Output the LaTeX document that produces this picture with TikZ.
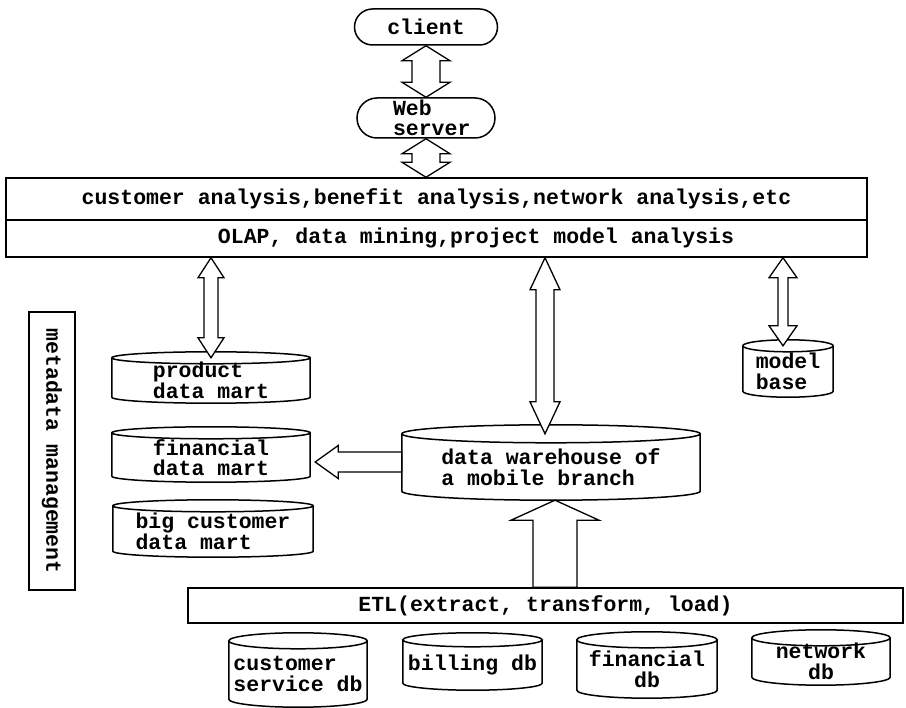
\documentclass[tikz,border=0pt]{standalone}
\usepackage{fontspec}
\newfontfamily\dfont{Liberation Mono}
\usetikzlibrary{calc}

% cylinder outline round a node whose box is the body below the top ellipse
% #1 node name, #2 half height of the ellipses (pt)
\newcommand\cylinder[2]{%
  \draw[outline] let \p1=(#1.north west), \p2=(#1.south east) in
    (\x1,\y1) -- (\x1,\y2+#2pt)
      arc[start angle=180, end angle=360, x radius={(\x2-\x1)/2}, y radius=#2pt]
      -- (\x2,\y1)
    ({(\x1+\x2)/2},\y1) ellipse[x radius={(\x2-\x1)/2}, y radius=#2pt];}

% hollow vertical double arrow: #1 upper end, #2 lower end (x taken from #1),
% #3 shaft half width, #4 head half width, #5 head length
\newcommand\blockboth[5]{%
  \draw[blockarrow] let \p1=(#1), \p2=(#2) in
    (\x1,\y1) -- (\x1+#4pt,\y1-#5pt) -- (\x1+#3pt,\y1-#5pt) -- (\x1+#3pt,\y2+#5pt)
    -- (\x1+#4pt,\y2+#5pt) -- (\x1,\y2) -- (\x1-#4pt,\y2+#5pt) -- (\x1-#3pt,\y2+#5pt)
    -- (\x1-#3pt,\y1-#5pt) -- (\x1-#4pt,\y1-#5pt) -- cycle;}

% hollow arrow pointing up: #1 tip, #2 tail (x taken from #1)
\newcommand\blockup[5]{%
  \draw[blockarrow] let \p1=(#1), \p2=(#2) in
    (\x1,\y1) -- (\x1+#4pt,\y1-#5pt) -- (\x1+#3pt,\y1-#5pt) -- (\x1+#3pt,\y2)
    -- (\x1-#3pt,\y2) -- (\x1-#3pt,\y1-#5pt) -- (\x1-#4pt,\y1-#5pt) -- cycle;}

% hollow arrow pointing left: #1 tip, #2 tail (y taken from #1)
\newcommand\blockleft[5]{%
  \draw[blockarrow] let \p1=(#1), \p2=(#2) in
    (\x1,\y1) -- (\x1+#5pt,\y1+#4pt) -- (\x1+#5pt,\y1+#3pt) -- (\x2,\y1+#3pt)
    -- (\x2,\y1-#3pt) -- (\x1+#5pt,\y1-#3pt) -- (\x1+#5pt,\y1-#4pt) -- cycle;}

\tikzset{
  every node/.style={font=\dfont\bfseries\fontsize{21.5pt}{20.5pt}\selectfont, inner sep=0pt},
  outline/.style={draw, line width=1.5pt},
  pill/.style={outline},
  bar/.style={outline},
  store/.style={align=left},
  blockarrow/.style={draw, line width=1.3pt, fill=white, line join=miter},
}

\begin{document}
\begin{tikzpicture}[x=1pt, y=-1pt]
\useasboundingbox (0,0) rectangle (906,708);

% client / web server
\node[pill, rounded corners=18pt, minimum width=143, minimum height=36] (client) at (426,27) {client};
\node[pill, rounded corners=20pt, minimum width=138, minimum height=40,
      text width=66, align=left] (web) at (426,118) {Web\\server};

% application layer
\node[bar, minimum width=861, minimum height=42] (apps) at (436.5,199)
  {customer analysis,benefit analysis,network analysis,etc};
\node[bar, minimum width=861, minimum height=37] (olap) at (436.5,238.5) {};
\node (olaptext) at (476,238) {OLAP, data mining,project model analysis};

% metadata management
\node[bar, rotate=-90, minimum width=278, minimum height=46] (meta) at (52,451)
  {metadata management};

% data marts
\node[store, minimum width=198, minimum height=45] (prod) at (211,380.5) {product\\data mart};
\node[store, minimum width=198, minimum height=49] (fin) at (211,457.5) {financial\\data mart};
\node[store, minimum width=200, minimum height=51] (big) at (213,531.5) {big customer\\data mart};
\cylinder{prod}{6}
\cylinder{fin}{6}
\cylinder{big}{6}

% model base
\node[store, minimum width=90, minimum height=51] (model) at (788,371.5) {model\\base};
\cylinder{model}{6}

% data warehouse
\node[store, minimum width=298, minimum height=66] (wh) at (551,467)
  {data warehouse of\\a mobile branch};
\cylinder{wh}{9}

% ETL
\node[bar, minimum width=715, minimum height=35] (etl) at (545.5,605.5)
  {ETL(extract, transform, load)};

% source databases
\node[store, minimum width=138, minimum height=66] (cs) at (298,674) {customer\\service db};
\node[store, minimum width=139, minimum height=50] (bill) at (472.5,665) {billing db};
\node[align=center, minimum width=140, minimum height=58] (fdb) at (647,669) {financial\\db};
\node[align=center, minimum width=138, minimum height=47] (ndb) at (821,661.5) {network\\db};
\cylinder{cs}{8}
\cylinder{bill}{7}
\cylinder{fdb}{8}
\cylinder{ndb}{8}

% arrows
\coordinate (whin) at ($(wh.north)+(-6,0)$);
\coordinate (mbin) at ($(model.north)+(-5,0)$);
\coordinate (finin) at ($(fin.east)+(5,4.5)$);
\coordinate (whout) at ($(wh.south)+(4,0)$);

\blockboth{client.south}{web.north}{14}{24}{15}
\blockboth{web.south}{apps.north}{14}{24}{15}
\blockboth{prod.north |- olap.south}{prod.north}{7}{13}{20}
\blockboth{whin |- olap.south}{whin}{9}{15}{32}
\blockboth{mbin |- olap.south}{mbin}{5}{14}{20}
\blockleft{finin}{wh.west}{10}{16.5}{23}
\blockup{whout}{etl.north}{22}{44}{20}
\end{tikzpicture}
\end{document}
